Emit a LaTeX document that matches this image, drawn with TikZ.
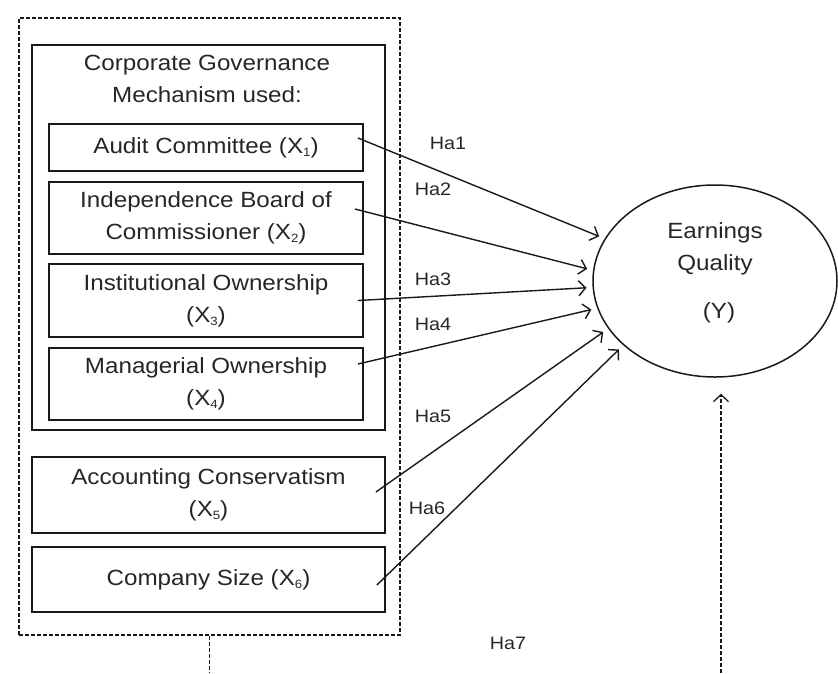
\documentclass[tikz,border=0pt]{standalone}
\usepackage{fontspec}
\setmainfont[FakeStretch=1.1]{Liberation Sans}
\usetikzlibrary{arrows.meta,shapes.geometric,calc}
\newcommand{\xsub}[1]{X\raisebox{-3pt}{\fontsize{12}{12}\selectfont #1}}

\begin{document}
\begin{tikzpicture}[x=1pt,y=-1pt,txt/.style={text=black!85,font=\fontsize{22}{32}\selectfont,align=center},var/.style={txt,draw=black!90,line width=1.8pt,inner sep=0pt,minimum width=\bwa},varW/.style={var,minimum width=\bwb},hyp/.style={text=black!85,font=\fontsize{18}{20}\selectfont},link/.style={draw=black!90,line width=1.4pt,shorten >=6pt,-{Straight Barb[length=7pt,width=15pt]}},mod/.style={draw=black!90,line width=1.3pt,dash pattern=on 4pt off 2pt}]
\def\bwa{314pt}
\def\bwb{353pt}

\useasboundingbox (0,0) rectangle (838,673);

% dashed frame and governance block
\node[mod,inner sep=0pt,minimum width=381pt,minimum height=617pt] (G) at (209.5,326.5) {};
\node[varW,minimum height=385pt] (CG) at (208.5,237.5) {};
\node[txt] (CGt) at (207,79) {Corporate Governance\\Mechanism used:};

\node[var,minimum height=47pt] (X1) at (206,147.5) {Audit Committee (\xsub{1})};
\node[var,minimum height=72pt] (X2) at (206,218) {Independence Board of\\Commissioner (\xsub{2})};
\node[var,minimum height=73pt] (X3) at (206,300.5) {Institutional Ownership\\(\xsub{3})};
\node[var,minimum height=72pt] (X4) at (206,384) {Managerial Ownership\\(\xsub{4})};

\node[varW,minimum height=76pt] (X5) at (208.5,495) {Accounting Conservatism\\(\xsub{5})};
\node[varW,minimum height=65pt] (X6) at (208.5,579.5) {Company Size (\xsub{6})};

% dependent variable
\node[draw=black!90,line width=1.5pt,ellipse,inner sep=0pt,minimum width=244pt,minimum height=192pt] (Y) at (715,281) {};
\node[txt] (Yt) at (715,249) {Earnings\\Quality};
\node[txt] (Yy) at (719,313) {(Y)};

\draw[link] ($(X1.east)+(-6,-9.5)$) -- (Y.159);
\draw[link] ($(X2.east)+(-9,-9)$) -- (Y.175);
\draw[link] ($(X3.east)+(-6,0)$) -- (Y.183);
\draw[link] ($(X4.east)+(-6,-20)$) -- (Y.193);
\draw[link] ($(X5.east)+(-10,-3)$) -- (Y.204);
\draw[link] ($(X6.east)+(-9,5.5)$) -- (Y.215);

\node[hyp] (H1) at (448,143) {Ha1};
\node[hyp] (H2) at (433,189) {Ha2};
\node[hyp] (H3) at (433,279) {Ha3};
\node[hyp] (H4) at (433,324) {Ha4};
\node[hyp] (H5) at (433,416) {Ha5};
\node[hyp] (H6) at (427,508) {Ha6};
\node[hyp] (H7) at (508,643) {Ha7};

% moderating path
\coordinate (Gb) at (208,673);
\coordinate (Yb) at (721,673);
\draw[mod] (G.south) -- (G.south |- Gb);
\draw[mod,shorten >=16pt,-{Straight Barb[length=7pt,width=15pt]}] (Yb) -- (Yb |- Y.south);
\end{tikzpicture}
\end{document}
